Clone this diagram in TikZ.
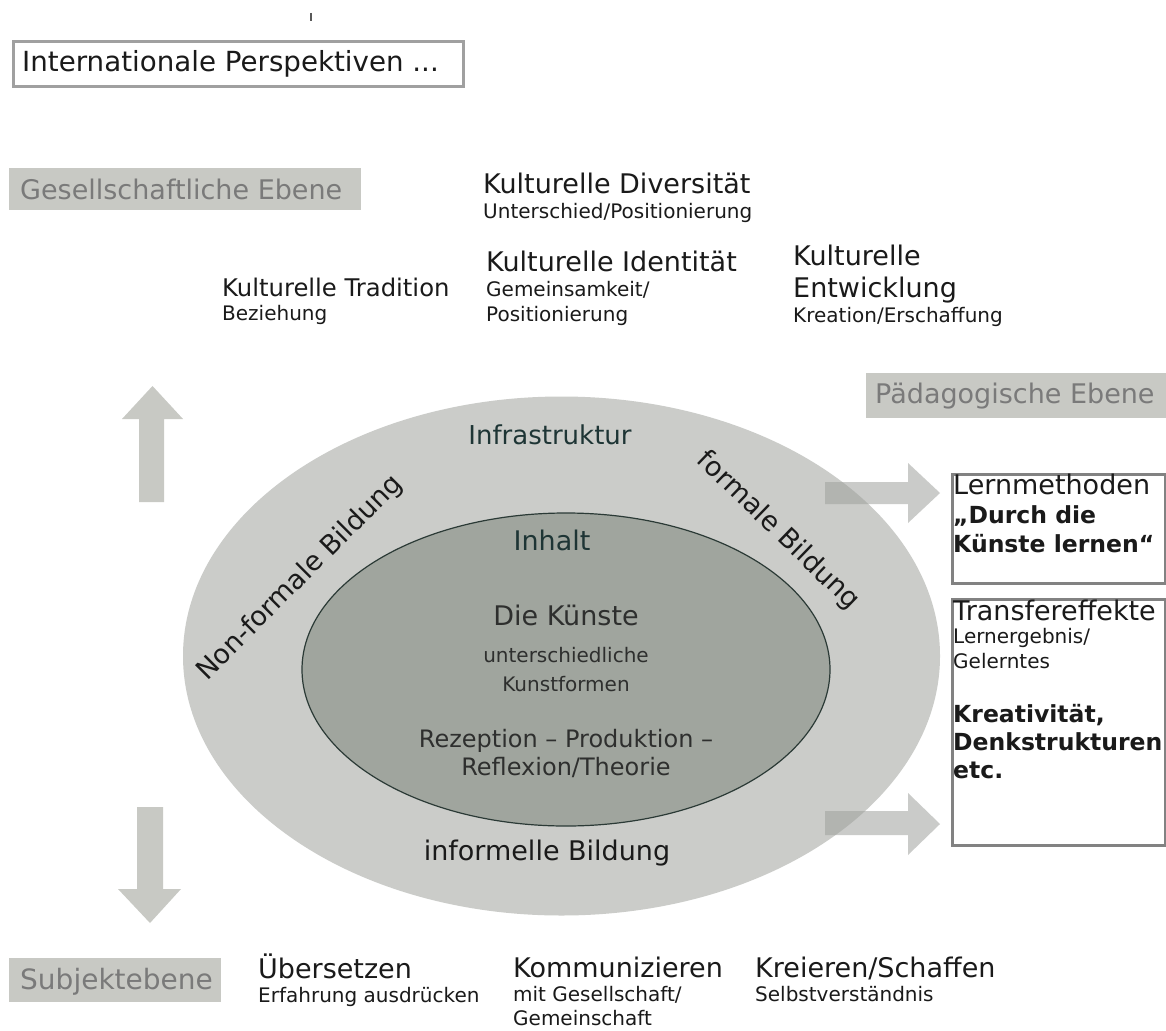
\documentclass[tikz,border=0pt]{standalone}
\usepackage{fontspec}
\setmainfont{DejaVu Sans}
\usetikzlibrary{shapes.geometric}
\definecolor{txt}{HTML}{1A1A1A}
\definecolor{inktext}{HTML}{1E3535}
\definecolor{outerfill}{HTML}{CBCCC9}
\definecolor{innerfill}{HTML}{A0A59E}
\definecolor{innerline}{HTML}{2B3A36}
\definecolor{lblfill}{HTML}{C8C9C4}
\definecolor{lbltext}{HTML}{7A7A7A}
\definecolor{arrowfill}{HTML}{C8C9C4}
\definecolor{arrowtrans}{HTML}{9FA19D}
\definecolor{boxline}{HTML}{828282}
\definecolor{topline}{HTML}{A0A0A0}
\tikzset{
  bigt/.style={font=\fontsize{27}{32}\selectfont, text=txt, inner sep=0pt, anchor=base west},
  smallt/.style={font=\fontsize{20}{24}\selectfont, text=txt, inner sep=0pt, anchor=base west},
  boldt/.style={font=\fontsize{23.5}{28}\selectfont\bfseries, text=txt, inner sep=0pt, anchor=base west},
  lbltxt/.style={font=\fontsize{27}{32}\selectfont, text=lbltext, inner sep=0pt, anchor=base west},
  lblbox/.style={fill=lblfill, inner sep=0pt, anchor=north west},
  framebox/.style={draw=boxline, line width=2.5pt, inner sep=0pt, anchor=north west, fill=white},
  blockarrow/.style={fill=arrowfill},
  transarrow/.style={fill=arrowtrans, fill opacity=0.55},
}
\begin{document}
\begin{tikzpicture}[x=1pt, y=-1pt]
\useasboundingbox[fill=white] (0,0) rectangle (1166,1030);

% stray mark
\draw[line width=1.6pt, color=black!65] (311,13) -- (311,21);

% top box
\node[draw=topline, line width=3pt, inner sep=0pt, anchor=north west, minimum width=450pt, minimum height=45pt] (intbox) at (11.5,40.5) {};
\node[bigt, font=\fontsize{27.7}{32}\selectfont] (inttxt) at (22,72) {Internationale Perspektiven ...};

% level labels
\node[lblbox, minimum width=352pt, minimum height=42pt] (gesbox) at (9,168) {};
\node[lbltxt] (gestxt) at (20,199) {Gesellschaftliche Ebene};
\node[lblbox, minimum width=300pt, minimum height=45pt] (paedbox) at (866,373) {};
\node[lbltxt] (paedtxt) at (875,403) {Pädagogische Ebene};
\node[lblbox, minimum width=212pt, minimum height=44pt] (subjbox) at (9,958) {};
\node[lbltxt, font=\fontsize{28}{32}\selectfont] (subjtxt) at (20,989) {Subjektebene};

% societal level texts
\node[bigt] (divt) at (483,193) {Kulturelle Diversität};
\node[smallt] (divs) at (483,218) {Unterschied/Positionierung};
\node[bigt] (idt) at (486,271) {Kulturelle Identität};
\node[smallt] (ids1) at (486,296) {Gemeinsamkeit/};
\node[smallt] (ids2) at (486,321) {Positionierung};
\node[bigt, font=\fontsize{24.3}{30}\selectfont] (tradt) at (222,296) {Kulturelle Tradition};
\node[smallt] (trads) at (222,320) {Beziehung};
\node[bigt] (entt1) at (793,265) {Kulturelle};
\node[bigt] (entt2) at (793,297) {Entwicklung};
\node[smallt] (ents) at (793,322) {Kreation/Erschaffung};

% vertical arrows
\path[blockarrow] (139,502) -- (139,419) -- (122,419) -- (152.5,386) -- (183,419) -- (164,419) -- (164,502) -- cycle;
\path[blockarrow] (137,807) -- (163,807) -- (163,889) -- (181,889) -- (150,923) -- (118,889) -- (137,889) -- cycle;

% ellipses
\node[ellipse, fill=outerfill, minimum width=757pt, minimum height=519pt, inner sep=0pt] (outer) at (561.5,656) {};
\node[ellipse, fill=innerfill, draw=innerline, line width=1.2pt, minimum width=528pt, minimum height=313pt, inner sep=0pt] (inner) at (566,669.5) {};

% ellipse texts
\node[bigt, anchor=base, text=inktext, font=\fontsize{26}{30}\selectfont] (infra) at (550,444) {Infrastruktur};
\node[bigt, anchor=base, text=inktext] (inhalt) at (552,550) {Inhalt};
\node[bigt, anchor=base, text=txt!85!innerfill] (kuenste) at (566,625) {Die Künste};
\node[smallt, anchor=base, text=txt!85!innerfill] (ku1) at (566,662) {unterschiedliche};
\node[smallt, anchor=base, text=txt!85!innerfill] (ku2) at (566,691) {Kunstformen};
\node[bigt, anchor=base, font=\fontsize{24}{28}\selectfont, text=txt!85!innerfill] (rez1) at (566,747) {Rezeption – Produktion –};
\node[bigt, anchor=base, font=\fontsize{24}{28}\selectfont, text=txt!85!innerfill] (rez2) at (566,775) {Reflexion/Theorie};
\node[bigt, anchor=base] (informell) at (547,860) {informelle Bildung};
\node[bigt, anchor=center, rotate=45] (nonformal) at (300,578) {Non-formale Bildung};
\node[bigt, anchor=center, rotate=-44] (formal) at (778,531) {formale Bildung};

% right arrows (translucent)
\path[transarrow] (825,482) -- (908,482) -- (908,463) -- (940,493) -- (908,523) -- (908,504) -- (825,504) -- cycle;
\path[transarrow] (825,811) -- (908,811) -- (908,793) -- (940,824) -- (908,855) -- (908,835) -- (825,835) -- cycle;

% right boxes
\node[framebox, minimum width=213pt, minimum height=109pt] (lernbox) at (951,473) {};
\node[framebox, minimum width=213pt, minimum height=246pt] (transbox) at (951,598) {};
\node[bigt] (lern1) at (953,494) {Lernmethoden};
\node[boldt] (lern2) at (953,523) {„Durch die};
\node[boldt] (lern3) at (953,552) {Künste lernen“};
\node[bigt] (trans1) at (953,620) {Transfereffekte};
\node[smallt] (trans2) at (953,643) {Lernergebnis/};
\node[smallt] (trans3) at (953,668) {Gelerntes};
\node[boldt] (trans4) at (953,722) {Kreativität,};
\node[boldt] (trans5) at (953,750) {Denkstrukturen};
\node[boldt] (trans6) at (953,778) {etc.};

% subject level texts
\node[bigt] (uebt) at (258,978) {Übersetzen};
\node[smallt] (uebs) at (258,1002) {Erfahrung ausdrücken};
\node[bigt] (komt) at (513,977) {Kommunizieren};
\node[smallt] (koms1) at (513,1001) {mit Gesellschaft/};
\node[smallt] (koms2) at (513,1025) {Gemeinschaft};
\node[bigt] (kret) at (755,977) {Kreieren/Schaffen};
\node[smallt] (kres) at (755,1001) {Selbstverständnis};
\end{tikzpicture}
\end{document}
